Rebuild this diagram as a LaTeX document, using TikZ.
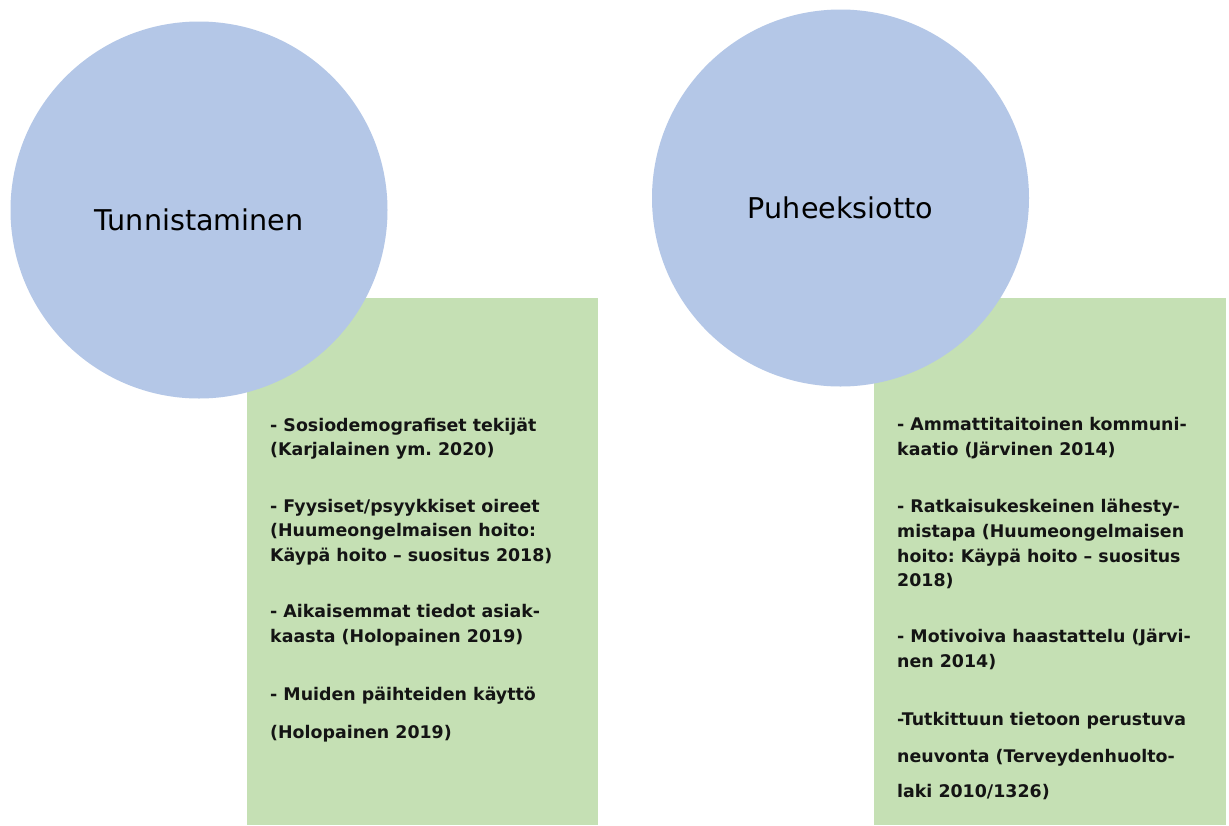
\documentclass[tikz,border=0pt]{standalone}
\usepackage{fontspec}
\setmainfont{DejaVu Sans}
\frenchspacing
\definecolor{circblue}{HTML}{B4C7E7}
\definecolor{boxgreen}{HTML}{C5E0B4}
\definecolor{ink}{HTML}{141414}
\begin{document}
\begin{tikzpicture}[x=1pt,y=-1pt,
  topic/.style={circle,fill=circblue,minimum size=377pt,inner sep=0pt},
  topiclabel/.style={anchor=base,inner sep=0pt,text=black,
    font=\fontsize{28.6}{34}\selectfont},
  panel/.style={fill=boxgreen,draw=none},
  item/.style={anchor=base west,inner sep=0pt,text=ink,
    font=\fontsize{17.4}{21}\selectfont\bfseries}]
\useasboundingbox (0,0) rectangle (1229,825);
\fill[white] (0,0) rectangle (1229,825);

% green panels sit behind the circles
\path[panel] (247,298) rectangle (598,825);
\path[panel] (874,298) rectangle (1226,825);

% topic circles
\node[topic] (tun) at (199,210) {};
\node[topiclabel] (tunlbl) at (199,230) {Tunnistaminen};
\node[topic] (puh) at (840.5,198) {};
\node[topiclabel] (puhlbl) at (840.5,218) {Puheeksiotto};

% left panel items
\node[item] (l1) at (270,431) {- Sosiodemografiset tekijät};
\node[item] (l2) at (270,455) {(Karjalainen ym. 2020)};
\node[item] (l3) at (270,512) {- Fyysiset/psyykkiset oireet};
\node[item] (l4) at (270,536) {(Huumeongelmaisen hoito:};
\node[item] (l5) at (270,561) {Käypä hoito – suositus 2018)};
\node[item] (l6) at (270,617) {- Aikaisemmat tiedot asiak-};
\node[item] (l7) at (270,642) {kaasta (Holopainen 2019)};
\node[item] (l8) at (270,700) {- Muiden päihteiden käyttö};
\node[item] (l9) at (270,738) {(Holopainen 2019)};

% right panel items
\node[item] (r1) at (897,430) {- Ammattitaitoinen kommuni-};
\node[item] (r2) at (897,455) {kaatio (Järvinen 2014)};
\node[item] (r3) at (897,512) {- Ratkaisukeskeinen lähesty-};
\node[item] (r4) at (897,537) {mistapa (Huumeongelmaisen};
\node[item] (r5) at (897,562) {hoito: Käypä hoito – suositus};
\node[item] (r6) at (897,586) {2018)};
\node[item] (r7) at (897,642) {- Motivoiva haastattelu (Järvi-};
\node[item] (r8) at (897,667) {nen 2014)};
\node[item] (r9) at (897,725) {-Tutkittuun tietoon perustuva};
\node[item] (r10) at (897,762) {neuvonta (Terveydenhuolto-};
\node[item] (r11) at (897,797) {laki 2010/1326)};
\end{tikzpicture}
\end{document}
